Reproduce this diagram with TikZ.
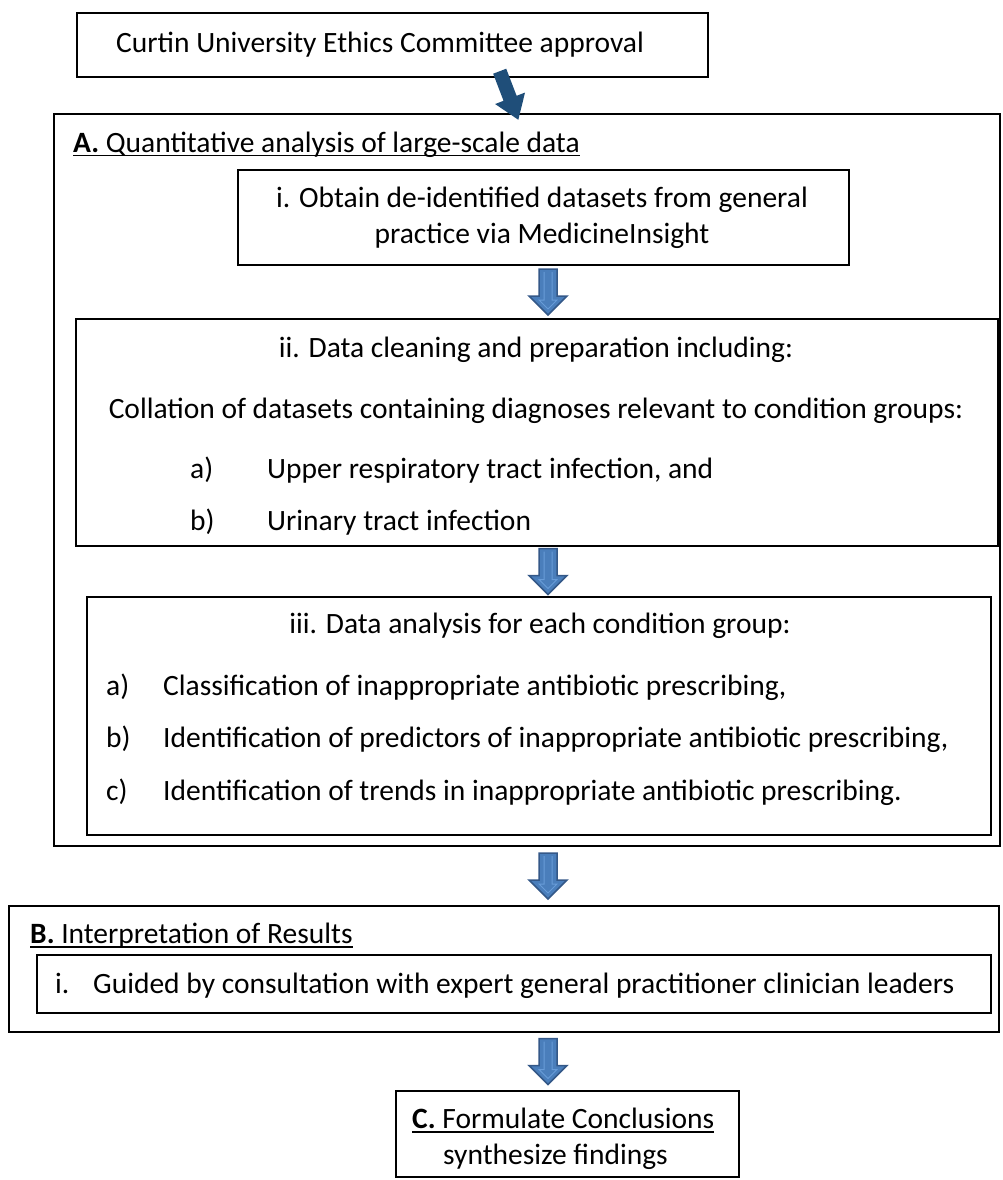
\documentclass[tikz,border=0pt]{standalone}
\usepackage{fontspec}
\setmainfont{Carlito}
\usetikzlibrary{calc}

\newcommand{\underlab}[1]{\setbox0\hbox{#1}\rlap{\rule[-4.5pt]{\wd0}{1.6pt}}\box0}

\definecolor{arrowblue}{RGB}{74,126,187}
\definecolor{arrowedge}{RGB}{52,88,136}
\definecolor{arrowlight}{RGB}{104,156,216}
\definecolor{navyarrow}{RGB}{31,78,121}

\begin{document}
\begin{tikzpicture}[x=1pt,y=-1pt,
    every node/.style={font=\fontsize{29.5}{36}\selectfont},
    frame/.style={draw,line width=2pt,inner sep=0pt,anchor=north west},
    txt/.style={inner sep=0pt,anchor=base},
    downarrow/.pic={
      \filldraw[fill=arrowblue,draw=arrowedge,line width=1.5pt,line join=miter]
        (-9,-23) -- (9,-23) -- (9,4) -- (19,4) -- (0,23) -- (-19,4) -- (-9,4) -- cycle;
      \draw[arrowlight,line width=1pt] (-4,-20) -- (-4,8) -- (-9,8) -- (0,17) -- (9,8) -- (4,8) -- (4,-20);
    },
    tiltarrow/.pic={
      \fill[navyarrow] (-7,-26) -- (7,-26) -- (7,3) -- (16,3) -- (0,26) -- (-16,3) -- (-7,3) -- cycle;
    }]
  \useasboundingbox (0,0) rectangle (1002,1180);
  \coordinate (ax) at (548,0); % column of the block arrows

  \node[frame,minimum width=631pt,minimum height=64pt] (ethics) at (76,12) {};
  \node[txt,anchor=base west] (ethicstxt) at (116,53) {Curtin University Ethics Committee approval};

  % part A
  \node[frame,minimum width=946pt,minimum height=732pt] (partA) at (53,113) {};
  \node[txt,anchor=base west] (partAtxt) at (73,152) {\underlab{\textbf{A.} Quantitative analysis of large-scale data}};

  \node[frame,minimum width=611pt,minimum height=95pt] (obtain) at (237,169) {};
  \node[txt] (obtaintxt) at (542,207) {i. Obtain de-identified datasets from general};
  \node[txt] (obtaintxt2) at (542,243) {practice via MedicineInsight};

  \node[frame,minimum width=922pt,minimum height=227pt] (cleaning) at (75,318) {};
  \node[txt] (cleantitle) at (536,357) {ii. Data cleaning and preparation including:};
  \node[txt] (collation) at (536,418) {Collation of datasets containing diagnoses relevant to condition groups:};
  \node[txt,anchor=base west] (cleanA) at (190,478) {a)};
  \node[txt,anchor=base west] (urti) at (267,478) {Upper respiratory tract infection, and};
  \node[txt,anchor=base west] (cleanB) at (190,530) {b)};
  \node[txt,anchor=base west] (uti) at (267,530) {Urinary tract infection};

  \node[frame,minimum width=904pt,minimum height=238pt] (analysis) at (86,596) {};
  \node[txt] (analysistitle) at (540,633) {iii. Data analysis for each condition group:};
  \node[txt,anchor=base west] (anA) at (106,695) {a)};
  \node[txt,anchor=base west] (classify) at (163,695) {Classification of inappropriate antibiotic prescribing,};
  \node[txt,anchor=base west] (anB) at (106,747) {b)};
  \node[txt,anchor=base west] (predict) at (163,747) {Identification of predictors of inappropriate antibiotic prescribing,};
  \node[txt,anchor=base west] (anC) at (106,800) {c)};
  \node[txt,anchor=base west] (trend) at (163,800) {Identification of trends in inappropriate antibiotic prescribing.};

  % part B
  \node[frame,minimum width=990pt,minimum height=126pt] (partB) at (8,905) {};
  \node[txt,anchor=base west] (partBtxt) at (30,943) {\underlab{\textbf{B.} Interpretation of Results}};
  \node[frame,minimum width=954pt,minimum height=58pt] (consult) at (36,954) {};
  \node[txt,anchor=base west] (consultI) at (55,993) {i.};
  \node[txt,anchor=base west] (consulttxt) at (93,993) {Guided by consultation with expert general practitioner clinician leaders};

  % part C
  \node[frame,minimum width=343pt,minimum height=86pt] (partC) at (395,1090) {};
  \node[txt,anchor=base west] (partCtxt) at (412,1128) {\underlab{\textbf{C.} Formulate Conclusions}};
  \node[txt,anchor=base west] (synth) at (443,1164) {synthesize findings};

  % arrows
  \pic[rotate=21] at ($(ethics.south -| 508,0)!.5!(partA.north -| 510,0)$) {tiltarrow};
  \pic at ($(obtain.south -| ax)!.5!(cleaning.north -| ax)$) {downarrow};
  \pic at ($(cleaning.south -| ax)!.5!(analysis.north -| ax)$) {downarrow};
  \pic at ($(partA.south -| ax)!.5!(partB.north -| ax)$) {downarrow};
  \pic at ($(partB.south -| ax)!.5!(partC.north -| ax)$) {downarrow};
\end{tikzpicture}
\end{document}
